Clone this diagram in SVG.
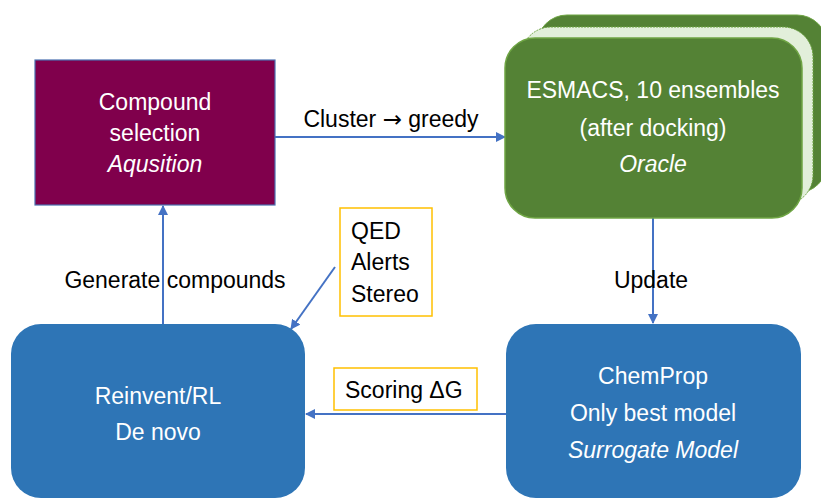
<svg xmlns="http://www.w3.org/2000/svg" width="821" height="498" viewBox="0 0 821 498">
<style>
text{font-family:"Liberation Sans",Arial,sans-serif;font-size:23px}
.w{fill:#fff}
.k{fill:#000}
.c{text-anchor:middle}
.i{font-style:italic}
.conn{stroke:#4472C4;stroke-width:2;fill:none}
.lab{fill:#fff;stroke:#FFC000;stroke-width:1.5}
.arr{font-family:"DejaVu Sans",sans-serif}
</style>
<defs>
<marker id="ah" viewBox="0 0 10 10" refX="9" refY="5" markerWidth="5" markerHeight="5" orient="auto" markerUnits="strokeWidth">
<path d="M0,0 L10,5 L0,10 z" fill="#4472C4"/>
</marker>
</defs>
<rect width="821" height="498" fill="#fff"/>
<g id="connectors">
<line class="conn" x1="275" y1="137" x2="505" y2="137" marker-end="url(#ah)"/>
<line class="conn" x1="653" y1="218" x2="653" y2="323" marker-end="url(#ah)"/>
<line class="conn" x1="506" y1="414" x2="306" y2="414" marker-end="url(#ah)"/>
<line class="conn" x1="163" y1="324" x2="163" y2="206" marker-end="url(#ah)"/>
<line class="conn" x1="335" y1="267" x2="291" y2="329" marker-end="url(#ah)"/>
<text class="k c" x="391" y="127">Cluster <tspan class="arr">→</tspan> greedy</text>
<text class="k c" x="651" y="288">Update</text>
<text class="k c" x="175" y="288">Generate compounds</text>
</g>
<g id="compound-selection">
<rect x="35" y="60" width="240" height="145" fill="#80004C" stroke="#4A6FB0" stroke-width="1.2"/>
<text class="w c" x="155" y="110">Compound</text>
<text class="w c" x="155" y="141">selection</text>
<text class="w c i" x="155" y="172">Aqusition</text>
</g>
<g id="esmacs">
<rect x="537" y="15" width="290" height="178" rx="30" fill="#548235" stroke="#6FA544" stroke-width="1"/>
<rect x="521" y="27" width="292" height="178" rx="30" fill="#E2EFDA" stroke="#6FA544" stroke-width="1" stroke-dasharray="2,1"/>
<rect x="505" y="38" width="297" height="180" rx="30" fill="#548235" stroke="#6FA544" stroke-width="1.5"/>
<text class="w c" x="653" y="98">ESMACS, 10 ensembles</text>
<text class="w c" x="653" y="136">(after docking)</text>
<text class="w c i" x="653" y="172">Oracle</text>
</g>
<g id="chemprop">
<rect x="506" y="324" width="295" height="174" rx="30" fill="#2E75B6"/>
<text class="w c" x="653" y="384">ChemProp</text>
<text class="w c" x="653" y="421">Only best model</text>
<text class="w c i" x="653" y="458">Surrogate Model</text>
</g>
<g id="reinvent">
<rect x="11" y="324" width="294" height="174" rx="30" fill="#2E75B6"/>
<text class="w c" x="158" y="404">Reinvent/RL</text>
<text class="w c" x="158" y="440">De novo</text>
</g>
<g id="qed">
<rect class="lab" x="340" y="208" width="92" height="108"/>
<text class="k" x="351" y="239">QED</text>
<text class="k" x="351" y="270">Alerts</text>
<text class="k" x="351" y="302">Stereo</text>
</g>
<g id="scoring">
<rect class="lab" x="334" y="368" width="143" height="42"/>
<text class="k" x="345" y="398">Scoring ΔG</text>
</g>
</svg>
